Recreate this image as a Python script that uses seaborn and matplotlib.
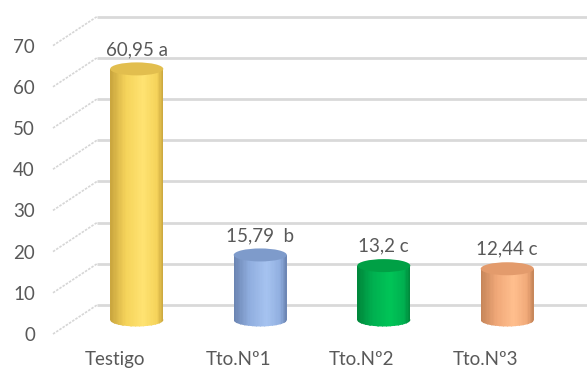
import numpy as np
import matplotlib
matplotlib.use("Agg")
import matplotlib.pyplot as plt
import seaborn as sns
from matplotlib.colors import LinearSegmentedColormap
from matplotlib.patches import Ellipse, Rectangle

categories = ["Testigo", "Tto.Nº1", "Tto.Nº2", "Tto.Nº3"]
values = [60.95, 15.79, 13.2, 12.44]
value_labels = ["60,95 a", "15,79  b", "13,2 c", "12,44 c"]
y_ticks = [0, 10, 20, 30, 40, 50, 60, 70]

# (edge, mid, light, top)
bar_colors = [
    ("#C9A53E", "#F5D35A", "#FFE372", "#E2BE4E"),
    ("#6A83B0", "#90AEDF", "#A6C3F0", "#7E9BCB"),
    ("#00863A", "#00B050", "#00C457", "#00A045"),
    ("#C48458", "#F0A878", "#FFBF8E", "#E39B6C"),
]

sns.set_theme(style="white")
plt.rcParams["font.family"] = ["Lato", "DejaVu Sans"]
TXT = "#595959"
GRID = "#d9d9d9"
FS = 13.5

W, H = 587, 369
fig = plt.figure(figsize=(W / 100, H / 100), dpi=100)


def rect(x0, y0, x1, ytop):
    return [x0 / W, (H - y0) / H, (x1 - x0) / W, (y0 - ytop) / H]


px = 4.12
bg = fig.add_axes([0, 0, 1, 1])
bg.set_xlim(0, W)
bg.set_ylim(H, 0)
bg.axis("off")

mid = fig.add_axes(rect(75, 320, 569, 320 - 70 * px))
front = fig.add_axes(rect(53, 334, 547, 334 - 70 * px))
for a in (mid, front):
    a.set_facecolor("none")
    for s in a.spines.values():
        s.set_visible(False)
    a.set_ylim(0, 70)
    a.set_xlim(-0.5, 3.5)

# side wall and back wall gridlines
dx, dy = 44, -29
for t in y_ticks:
    fx, fy = front.transData.transform((-0.5, t))
    fyp = H - fy
    bx, by = fx + dx, fyp + dy
    bg.plot([fx, bx], [fyp, by], color="#d6d6d6", lw=1.2, linestyle=(0, (1.5, 0.8)),
            solid_capstyle="butt")
    bg.plot([bx, W + 5], [by, by], color=GRID, lw=2, solid_capstyle="butt")
bg.set_xlim(0, W)
bg.set_ylim(H, 0)

# bars
sns.barplot(x=categories, y=values, hue=categories, palette=[c[1] for c in bar_colors],
            width=0.43, ax=mid, legend=False, saturation=1, errorbar=None)
mid.set_xlim(-0.5, 3.5)
mid.set_ylim(0, 70)

scale = mid.transData.transform((0, 1))[1] - mid.transData.transform((0, 0))[1]
eh = 13 / scale
N = 40
patches = list(mid.patches)
for patch, cols, lab in zip(patches, bar_colors, value_labels):
    x0 = patch.get_x()
    w = patch.get_width()
    h = patch.get_height()
    cx = x0 + w / 2
    edge, mc, light, topc = cols
    cmap = LinearSegmentedColormap.from_list(
        "c", [(0, edge), (0.3, mc), (0.62, light), (0.88, mc), (1, edge)])
    patch.set_visible(False)
    bottom_e = Ellipse((cx, 0), w, eh, transform=mid.transData)
    sw = w / N
    for i in range(N):
        xs = x0 + i * sw
        c = cmap((i + 0.5) / N)
        s1 = Rectangle((xs, -eh / 2), sw * 1.3, eh, fc=c, ec="none", lw=0,
                       transform=mid.transData, zorder=2)
        s1.set_clip_path(bottom_e)
        mid.add_patch(s1)
        s2 = Rectangle((xs, 0), min(sw * 1.3, x0 + w - xs), h, fc=c, ec="none", lw=0,
                       zorder=3)
        mid.add_patch(s2)
    mid.add_patch(Ellipse((cx, h), w, eh, fc=topc, ec="none", zorder=4))
    mid.annotate(lab, (cx, h), xytext=(0, 14), textcoords="offset points",
                 ha="center", va="center", fontsize=FS, color=TXT)

mid.set_xlim(-0.5, 3.5)
mid.set_ylim(0, 70)
mid.axis("off")

# front axes: labels
front.set_yticks(y_ticks)
front.set_yticklabels([str(t) for t in y_ticks])
front.set_xticks(range(len(categories)))
front.set_xticklabels(categories)
front.tick_params(axis="y", length=0, pad=13, labelsize=FS, labelcolor=TXT)
front.tick_params(axis="x", length=0, pad=12, labelsize=FS, labelcolor=TXT)
front.grid(False)

fig.savefig("out.png", dpi=100)
